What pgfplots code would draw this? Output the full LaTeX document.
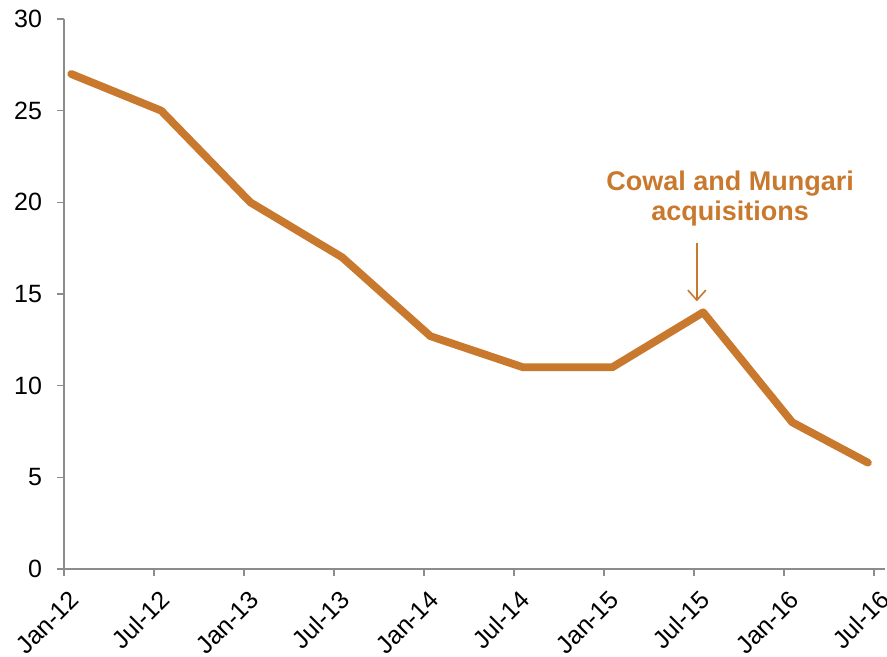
\documentclass[border=0pt]{standalone}
\usepackage{fontspec}
\setmainfont{Liberation Sans}
\usepackage{pgfplots}
\pgfplotsset{compat=1.18}
\usetikzlibrary{arrows.meta}
\definecolor{lineor}{HTML}{C8792E}
\definecolor{axgray}{HTML}{8C8C8C}
\begin{document}
\begin{tikzpicture}
\useasboundingbox (-32pt,-44pt) rectangle (411.5pt,284.5pt);
\begin{axis}[
  at={(0,0)}, anchor=south west,
  scale only axis,
  width=410.5pt, height=275pt,
  xmin=0, xmax=9.12, ymin=0, ymax=30,
  axis x line*=bottom, axis y line*=left,
  axis line style={axgray, line width=0.8pt, -},
  xtick={0,1,2,3,4,5,6,7,8,9},
  xticklabels={Jan-12,Jul-12,Jan-13,Jul-13,Jan-14,Jul-14,Jan-15,Jul-15,Jan-16,Jul-16},
  ytick={0,5,10,15,20,25,30},
  tick style={axgray, line width=0.8pt},
  tick align=outside, major tick length=3.5pt,
  x tick label style={rotate=45, anchor=north east, font=\fontsize{12.5}{14}\selectfont, inner sep=0pt, yshift=-6pt, xshift=-3pt},
  y tick label style={font=\fontsize{12.5}{14}\selectfont, xshift=-4pt},
  /pgf/number format/assume math mode=true,
  clip=false,
]
\addplot[lineor, line width=3.9pt, line join=round, line cap=round] coordinates {
  (0.08,27) (1.08,25) (2.07,20) (3.09,17) (4.07,12.7) (5.1,11) (6.09,11) (7.1,14) (8.09,8) (8.93,5.8)
};
\draw[lineor, line width=0.8pt, -{Straight Barb[length=5pt,width=9pt]}] (axis cs:7.03,17.8) -- (axis cs:7.03,14.6);
\node[lineor, font=\bfseries\fontsize{13.5}{15}\selectfont, align=center] at (axis cs:7.4,20.2) {Cowal and Mungari\\acquisitions};
\end{axis}
\end{tikzpicture}
\end{document}
